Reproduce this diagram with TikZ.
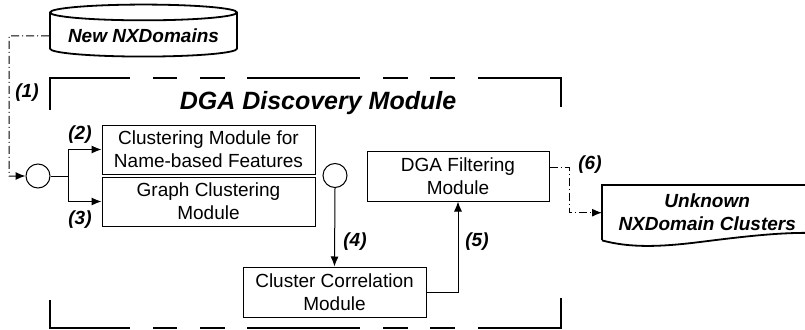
\documentclass[tikz,border=0pt]{standalone}
\usepackage{fontspec}
\setmainfont{Liberation Sans}
\usetikzlibrary{shapes.geometric,arrows.meta}
\tikzset{
  modbox/.style={draw,line width=1pt,align=center,inner sep=0pt,font=\fontsize{19}{23}\selectfont},
  junc/.style={draw,circle,line width=1pt,minimum size=24pt,inner sep=0pt},
  lbl/.style={font=\fontsize{19}{23}\selectfont\bfseries\itshape},
  flow/.style={line width=1pt,-{Latex[length=10pt,width=8pt]}},
  dashdot/.style={dash pattern=on 8pt off 3pt on 1pt off 3pt},
  frame/.style={line width=2pt},
}

\begin{document}
\begin{tikzpicture}[x=1pt,y=-1pt]
            \useasboundingbox (0,0) rectangle (805,329);
            \clip (0,0) rectangle (805,329);
            \node[cylinder,shape border rotate=90,draw,line width=1.8pt,aspect=0.1,minimum width=187pt,minimum height=52pt,lbl] (newnx) at (143.5,36) {New NXDomains};
            \node[lbl] (title) at (318,103) {\fontsize{25}{30}\selectfont DGA Discovery Module};
            \draw[frame] (50,110) -- (50,78) -- (130,78);
            \draw[frame] (153,78) -- (177,78);
            \draw[frame] (200,78) -- (225,78);
            \draw[frame] (247,78) -- (360,78);
            \draw[frame] (383,78) -- (408,78);
            \draw[frame] (430,78) -- (455,78);
            \draw[frame] (478,78) -- (561,78) -- (561,107);
            \draw[frame] (50,300) -- (50,328) -- (130,328);
            \draw[frame] (153,328) -- (177,328);
            \draw[frame] (200,328) -- (225,328);
            \draw[frame] (247,328) -- (360,328);
            \draw[frame] (383,328) -- (408,328);
            \draw[frame] (430,328) -- (455,328);
            \draw[frame] (478,328) -- (561,328) -- (561,298);
            \node[junc] (in) at (38,176) {};
            \node[modbox,minimum width=213pt,minimum height=49pt] (namebox) at (208.5,149.5) {Clustering Module for\\Name-based Features};
            \node[modbox,minimum width=213pt,minimum height=49pt] (graphbox) at (208.5,201.5) {Graph Clustering\\Module};
            \node[junc] (out) at (335,175.5) {};
            \node[modbox,minimum width=183pt,minimum height=50pt] (corr) at (334.5,292) {Cluster Correlation\\Module};
            \node[modbox,minimum width=182pt,minimum height=50pt] (filter) at (458,176) {DGA Filtering\\Module};
            \node[lbl,align=center,minimum width=210pt,minimum height=55pt,inner sep=0pt,anchor=north west] (unk) at (602,185) {Unknown\\NXDomain Clusters};
            \draw[line width=1.8pt] (unk.south west) -- (unk.north west) -- (815,185);
            \draw[line width=1.8pt] (unk.south west) .. controls (630,248) and (660,247) .. (700,242) .. controls (740,237) and (780,232) .. (815,233);
            \draw[flow,dashdot] (newnx.west) -- (9,36) |- (in.west);
            \draw[flow] (in.east) -- (68,176) coordinate (split) |- (namebox.west);
            \draw[flow] (split) |- (graphbox.west);
            \draw[flow] (out.south) -- (corr.north);
            \draw[flow] (corr.east) -| (filter.south);
            \draw[flow,dashdot] ([yshift=9pt]filter.east) -- (569,167) |- (unk.west);
            \node[lbl] (l1) at (27,93) {(1)};
            \node[lbl] (l2) at (80,135) {(2)};
            \node[lbl] (l3) at (80,220) {(3)};
            \node[lbl] (l4) at (355,242) {(4)};
            \node[lbl] (l5) at (477,242) {(5)};
            \node[lbl] (l6) at (590,165) {(6)};
        \end{tikzpicture}
\end{document}
